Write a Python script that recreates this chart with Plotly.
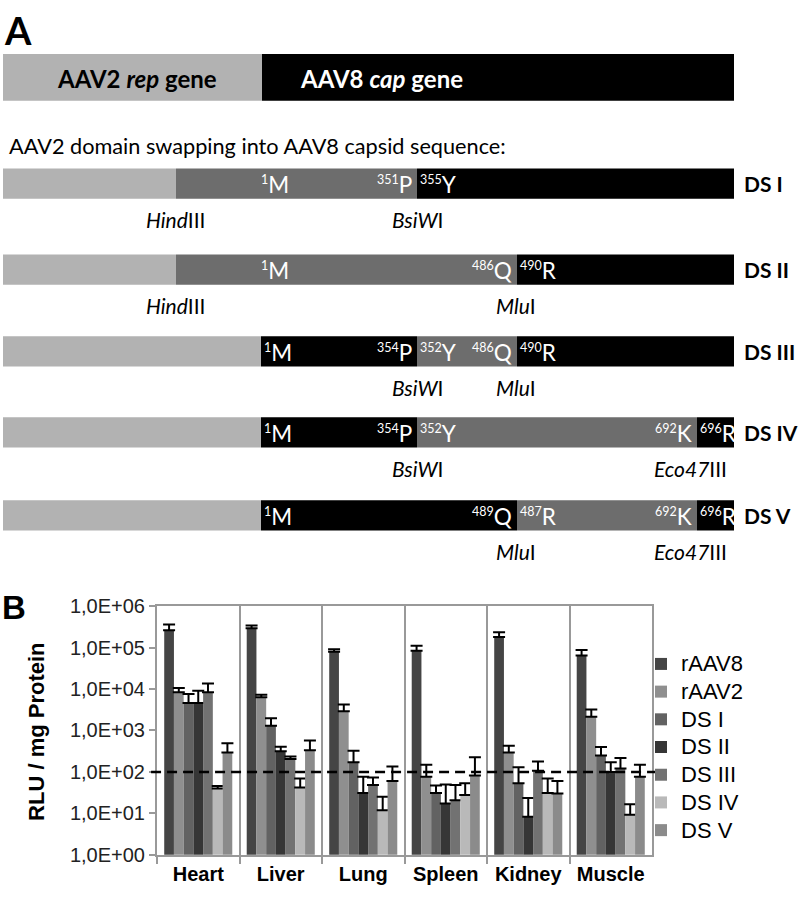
import plotly.graph_objects as go

# ---------------- Panel B data ----------------
organs = ["Heart", "Liver", "Lung", "Spleen", "Kidney", "Muscle"]
series_names = ["rAAV8", "rAAV2", "DS I", "DS II", "DS III", "DS IV", "DS V"]

rAAV8 = [2.6e5, 2.9e5, 7.9e4, 8.3e4, 1.8e5, 6.4e4]
rAAV8_top = [3.6e5, 3.4e5, 9.1e4, 1.1e5, 2.35e5, 8.7e4]
rAAV2 = [8.3e3, 6.3e3, 2.9e3, 76, 295, 2.15e3]
rAAV2_top = [1.05e4, 7.3e3, 4.2e3, 148, 425, 3.2e3]
ds1 = [4.6e3, 1.3e3, 172, 31, 53, 247]
ds1_top = [7.6e3, 1.96e3, 323, 47, 129, 400]
ds2 = [4.6e3, 316, 31, 17.4, 8.3, 100]
ds2_top = [9.1e3, 405, 76, 50, 23.5, 172]
ds3 = [8.3e3, 204, 48.6, 20.8, 107, 120]
ds3_top = [1.36e4, 234, 73, 48, 178, 217]
ds4 = [40, 42, 11.8, 27.6, 31, 9.2]
ds4_top = [46, 69, 25, 53, 69, 16.5]
ds5 = [295, 333, 60, 82, 30, 76]
ds5_top = [490, 575, 135, 225, 60, 148]

threshold = 100
tick_vals = [1, 10, 100, 1e3, 1e4, 1e5, 1e6]
tick_text = ["1,0E+00", "1,0E+01", "1,0E+02", "1,0E+03", "1,0E+04", "1,0E+05", "1,0E+06"]

# ---------------- Panel A data (scheme positions) ----------------
gene_bounds = [3, 262, 734]
gene_src = ["rep", "AAV8"]
gene_names = ["AAV2 <i>rep</i> gene", "AAV8 <i>cap</i> gene"]

row_names = ["DS I", "DS II", "DS III", "DS IV", "DS V"]
row_centers = [177, 265, 349, 432, 517]
ds1_bounds = [3, 176, 417, 734]
ds1_src = ["rep", "AAV2", "AAV8"]
ds2_bounds = [3, 176, 517, 734]
ds2_src = ["rep", "AAV2", "AAV8"]
ds3_bounds = [3, 261, 417, 517, 734]
ds3_src = ["rep", "AAV8", "AAV2", "AAV8"]
ds4_bounds = [3, 261, 417, 697, 734]
ds4_src = ["rep", "AAV8", "AAV2", "AAV8"]
ds5_bounds = [3, 261, 517, 697, 734]
ds5_src = ["rep", "AAV8", "AAV2", "AAV8"]

# residue labels: (boundary, left residue, right residue)
ds1_res = [(258, None, ("1", "M")), (417, ("351", "P"), ("355", "Y"))]
ds2_res = [(258, None, ("1", "M")), (517, ("486", "Q"), ("490", "R"))]
ds3_res = [(261, None, ("1", "M")), (417, ("354", "P"), ("352", "Y")), (517, ("486", "Q"), ("490", "R"))]
ds4_res = [(261, None, ("1", "M")), (417, ("354", "P"), ("352", "Y")), (697, ("692", "K"), ("696", "R"))]
ds5_res = [(261, None, ("1", "M")), (517, ("489", "Q"), ("487", "R")), (697, ("692", "K"), ("696", "R"))]

# restriction sites: (position, italic part, roman part)
ds1_sites = [(175, "Hind", "III"), (417, "BsiW", "I")]
ds2_sites = [(175, "Hind", "III"), (516, "Mlu", "I")]
ds3_sites = [(417, "BsiW", "I"), (516, "Mlu", "I")]
ds4_sites = [(417, "BsiW", "I"), (690, "Eco47", "III")]
ds5_sites = [(516, "Mlu", "I"), (690, "Eco47", "III")]

# ---------------- styles ----------------
series_colors = ["#454545", "#8f8f8f", "#626262", "#363636", "#727272", "#b9b9b9", "#8b8b8b"]
src_colors = {"rep": "#b2b2b2", "AAV2": "#6d6d6d", "AAV8": "#000000"}
AX = "#999999"
SFONT = "Lato"

fig = go.Figure()

values = [rAAV8, rAAV2, ds1, ds2, ds3, ds4, ds5]
tops = [rAAV8_top, rAAV2_top, ds1_top, ds2_top, ds3_top, ds4_top, ds5_top]
for name, vals, top, col in zip(series_names, values, tops, series_colors):
    fig.add_trace(go.Bar(
        x=organs, y=vals, name='<span style="font-size:22px">%s</span>' % name,
        marker=dict(color=col, line=dict(width=0)),
        error_y=dict(type="data", symmetric=False,
                     array=[t - v for t, v in zip(top, vals)],
                     arrayminus=[0] * len(vals),
                     color="black", thickness=2, width=6),
        xaxis="x", yaxis="y",
    ))

# ---------- schematic bars (x2/y2, pixel-like scheme units) ----------
seg_y, seg_base, seg_len, seg_col, seg_w = [], [], [], [], []


def add_row(bounds, src, yc, h):
    for i, s in enumerate(src):
        seg_y.append(yc)
        seg_base.append(bounds[i])
        seg_len.append(bounds[i + 1] - bounds[i])
        seg_col.append(src_colors[s])
        seg_w.append(h)


add_row(gene_bounds, gene_src, 68, 48)
all_bounds = [ds1_bounds, ds2_bounds, ds3_bounds, ds4_bounds, ds5_bounds]
all_src = [ds1_src, ds2_src, ds3_src, ds4_src, ds5_src]
for b, s, yc in zip(all_bounds, all_src, row_centers):
    add_row(b, s, yc, 31)

fig.add_trace(go.Bar(
    y=seg_y, x=seg_len, base=seg_base, orientation="h", width=seg_w,
    marker=dict(color=seg_col, line=dict(width=0)),
    showlegend=False, xaxis="x2", yaxis="y2", hoverinfo="skip",
))

ann = []


def a2(text, x, y, size, color="black", xanchor="center", bold=False, family=SFONT):
    ann.append(dict(text=("<b>%s</b>" % text) if bold else text, x=x, y=y, xref="x2", yref="y2",
                    showarrow=False, xanchor=xanchor, yanchor="middle",
                    font=dict(family=family, size=size, color=color)))


def res_text(r):
    return '<sup><span style="font-size:12.5px">%s</span></sup>%s' % r


a2("A", 2, 19, 38, xanchor="left", bold=True)
a2(gene_names[0], 137, 69, 24, bold=True)
a2(gene_names[1], 298, 69, 24, color="white", xanchor="left", bold=True)
a2("AAV2 domain swapping into AAV8 capsid sequence:", 7, 138, 21.7, xanchor="left")

all_res = [ds1_res, ds2_res, ds3_res, ds4_res, ds5_res]
all_sites = [ds1_sites, ds2_sites, ds3_sites, ds4_sites, ds5_sites]
for name, yc, res, sites in zip(row_names, row_centers, all_res, all_sites):
    a2(name, 742, yc, 21, xanchor="left", bold=True)
    for pos, left, right in res:
        if left:
            a2(res_text(left), pos - 3, yc + 1, 22.5, color="white", xanchor="right")
        if right:
            a2(res_text(right), pos + 1, yc + 1, 22.5, color="white", xanchor="left")
    for pos, it, rm in sites:
        a2("<i>%s</i>%s" % (it, rm), pos, yc + 37, 21)

# panel B letter and y title
ann.append(dict(text="<b>B</b>", x=0, y=611, xref="x2", yref="y2", showarrow=False,
                xanchor="left", yanchor="middle", font=dict(family="Arial", size=33, color="black")))
ann.append(dict(text="<b>RLU / mg Protein</b>", x=37, y=739, xref="x2", yref="y2", showarrow=False,
                textangle=-90, xanchor="center", yanchor="middle",
                font=dict(family="Arial", size=22, color="black")))

H = 898.0
fig.update_layout(
    width=800, height=898, margin=dict(l=0, r=0, t=0, b=0),
    paper_bgcolor="white", plot_bgcolor="rgba(0,0,0,0)",
    barmode="group", bargap=0.175, bargroupgap=0,
    annotations=ann,
    legend=dict(x=641 / 800, y=1 - 650 / H, xanchor="left", yanchor="top",
                font=dict(family="Arial", size=19, color="black"),
                tracegroupgap=0, itemwidth=30, bgcolor="rgba(0,0,0,0)"),
    xaxis=dict(domain=[157 / 800, 652 / 800], type="category", anchor="y",
               tickson="boundaries", ticks="outside", ticklen=7, tickcolor=AX, tickwidth=2,
               showgrid=True, gridcolor=AX, gridwidth=2,
               showline=True, linecolor=AX, linewidth=2, mirror=True,
               tickvals=organs, ticktext=["<b>%s</b>" % o for o in organs],
               tickfont=dict(family="Arial", size=20, color="black")),
    yaxis=dict(domain=[1 - 865 / H, 1 - 610 / H], type="log", range=[0, 6], anchor="x",
               tickvals=tick_vals, ticktext=tick_text, ticks="outside", ticklen=6,
               tickcolor=AX, tickwidth=2, showgrid=False,
               showline=True, linecolor=AX, linewidth=2, mirror=True,
               tickfont=dict(family="Arial", size=20, color="#222222")),
    xaxis2=dict(domain=[0, 1], range=[0, 800], visible=False, anchor="y2", fixedrange=True),
    yaxis2=dict(domain=[0, 1], range=[H, 0], visible=False, anchor="x2", fixedrange=True),
)

fig.add_shape(type="line", xref="x domain", yref="y", x0=-0.012, x1=1.008,
              y0=threshold, y1=threshold, line=dict(color="black", width=2.5, dash="10px,6px"))

fig.write_html("out.html", config={"displayModeBar": False},
               post_script="document.body.style.margin='0';")
